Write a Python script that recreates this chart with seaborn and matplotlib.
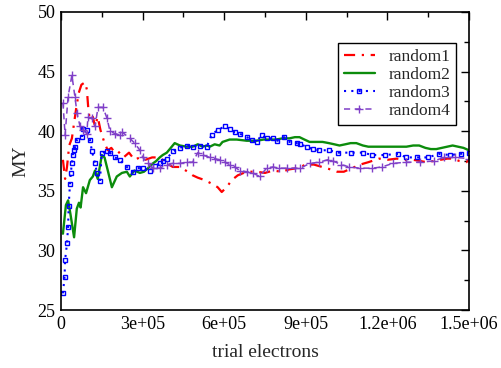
import matplotlib
matplotlib.use("Agg")
import matplotlib.pyplot as plt
from matplotlib.ticker import MultipleLocator, FixedLocator
import seaborn as sns
import pandas as pd

# ---- data (x in thousands of trial electrons) ----
red_x = [7, 15, 22, 30, 40, 55, 65, 75, 88, 95, 100, 106, 117, 125, 135, 145, 160, 172, 185, 198,
         210, 230, 250, 270, 290, 310, 335, 363, 389, 411, 437, 466, 484, 503, 528, 554, 576, 591, 609, 628,
         650, 683, 719, 750, 780, 810, 840, 870, 900, 930, 960, 990, 1015, 1040, 1070, 1100, 1130, 1170, 1200, 1235,
         1265, 1295, 1320, 1345, 1370, 1395, 1420, 1440, 1465, 1490, 1500]
red_y = [37.6, 36.0, 37.0, 38.8, 39.4, 41.8, 43.2, 43.9, 44.1, 43.5, 42.0, 40.9, 41.2, 40.4, 41.2, 40.1, 39.0, 38.4, 38.6, 38.2,
         38.3, 37.8, 38.2, 37.6, 37.8, 37.6, 37.8, 37.8, 37.3, 37.0, 37.0, 36.6, 36.3, 36.1, 35.9, 35.6, 35.3, 34.9, 35.3, 35.9,
         36.3, 36.6, 36.6, 36.5, 36.7, 36.6, 36.8, 36.9, 37.2, 37.2, 37.0, 36.8, 36.6, 36.6, 36.9, 37.2, 37.4, 37.7, 37.6, 37.7,
         37.6, 37.6, 37.5, 37.4, 37.5, 37.6, 37.7, 37.7, 37.5, 37.4, 37.6]

green_x = [7, 18, 26, 35, 48, 58, 66, 72, 81, 92, 106, 117, 125, 135, 150, 160, 172, 187, 205, 224,
           242, 253, 270, 290, 305, 320, 338, 350, 363, 374, 389, 418, 437, 462, 484, 503, 521, 536, 547, 565,
           583, 594, 620, 646, 683, 719, 745, 767, 790, 815, 840, 860, 877, 895, 914, 935, 962, 985, 1005, 1024,
           1045, 1065, 1086, 1110, 1130, 1150, 1175, 1200, 1225, 1250, 1270, 1295, 1317, 1340, 1360, 1380, 1400, 1420, 1440, 1460,
           1480, 1500]
green_y = [31.4, 33.8, 34.2, 33.0, 31.1, 33.5, 34.0, 33.6, 35.3, 34.8, 35.9, 36.2, 36.7, 36.0, 38.0, 37.8, 36.7, 35.3, 36.2, 36.5,
           36.6, 36.2, 36.7, 36.5, 36.6, 36.9, 37.3, 37.5, 37.8, 38.0, 38.2, 39.0, 38.8, 38.7, 38.7, 38.9, 38.7, 38.8, 38.7, 38.9,
           38.8, 39.1, 39.3, 39.3, 39.2, 39.2, 39.3, 39.3, 39.3, 39.4, 39.4, 39.5, 39.5, 39.3, 39.1, 39.1, 39.1, 39.0, 38.9, 38.8,
           38.9, 39.0, 39.0, 38.8, 38.7, 38.7, 38.7, 38.7, 38.7, 38.7, 38.7, 38.8, 38.8, 38.6, 38.5, 38.5, 38.6, 38.7, 38.8, 38.7,
           38.6, 38.4]

blue_x = [7, 13, 15, 22, 26, 28, 33, 36, 40, 43, 47, 52, 59, 77, 81, 95, 106, 114, 125, 132,
          143, 150, 169, 180, 198, 216, 242, 264, 282, 301, 326, 345, 363, 374, 389, 411, 437, 462, 484, 510,
          536, 554, 576, 602, 620, 639, 657, 683, 701, 719, 738, 756, 778, 796, 820, 840, 866, 880, 903, 925,
          950, 985, 1020, 1065, 1110, 1145, 1190, 1240, 1270, 1310, 1350, 1390, 1430, 1470, 1500]
blue_y = [26.4, 27.8, 29.2, 30.6, 32.0, 33.7, 35.6, 36.5, 37.3, 38.0, 38.4, 38.7, 39.3, 39.5, 40.2, 40.1, 39.3, 38.3, 37.3, 36.5,
          35.8, 38.2, 38.3, 38.2, 37.8, 37.6, 37.0, 36.6, 36.9, 36.9, 36.7, 37.1, 37.3, 37.5, 37.7, 38.3, 38.6, 38.8, 38.7, 38.8,
          38.7, 39.7, 40.1, 40.4, 40.2, 39.9, 39.8, 39.5, 39.3, 39.1, 39.7, 39.4, 39.4, 39.2, 39.5, 39.1, 39.0, 38.9, 38.7, 38.5,
          38.4, 38.4, 38.2, 38.2, 38.2, 38.0, 38.0, 38.1, 37.8, 37.8, 37.8, 38.1, 38.0, 38.1, 38.2]

purple_x = [7, 15, 26, 40, 51, 59, 70, 81, 95, 99, 114, 125, 136, 154, 169, 180, 198, 216, 226, 253,
            271, 290, 301, 319, 338, 363, 389, 411, 437, 462, 484, 503, 521, 547, 565, 583, 602, 620, 639, 657,
            683, 705, 730, 756, 778, 800, 830, 860, 880, 915, 950, 980, 1000, 1030, 1060, 1100, 1145, 1180, 1220, 1270,
            1320, 1370, 1410, 1450, 1500]
purple_y = [42.4, 39.7, 42.9, 44.7, 42.9, 41.5, 40.4, 40.1, 39.8, 41.2, 41.1, 40.4, 42.0, 42.0, 41.1, 40.0, 39.8, 39.7, 39.9, 39.4,
            39.0, 38.4, 37.8, 37.3, 36.9, 36.9, 37.2, 37.3, 37.3, 37.4, 37.4, 38.2, 38.0, 37.8, 37.7, 37.6, 37.4, 37.2, 37.0, 36.7,
            36.6, 36.5, 36.2, 36.9, 37.0, 36.9, 36.9, 36.9, 36.9, 37.3, 37.4, 37.6, 37.5, 37.2, 37.0, 36.9, 36.9, 37.0, 37.3, 37.4,
            37.4, 37.5, 37.8, 37.8, 37.7]

series_names = ["random1", "random2", "random3", "random4"]
x_ticks = [0, 3e5, 6e5, 9e5, 1.2e6, 1.5e6]
x_tick_labels = ["0", "3e+05", "6e+05", "9e+05", "1.2e+06", "1.5e+06"]
y_ticks = [25, 30, 35, 40, 45, 50]

sns.set_style("white")
plt.rcParams["font.family"] = ["Liberation Serif", "DejaVu Serif"]
plt.rcParams["mathtext.fontset"] = "stix"

fig = plt.figure(figsize=(5.01, 3.68), dpi=100)
ax = fig.add_axes([0.1218, 0.1576, 0.8142, 0.8098])

frames = []
for name, xs, ys in zip(series_names, [red_x, green_x, blue_x, purple_x], [red_y, green_y, blue_y, purple_y]):
    frames.append(pd.DataFrame({"x": [v * 1000 for v in xs], "y": ys, "series": name}))

styles = {
    "random1": dict(color="#ff0000", linestyle=(0, (5, 3, 1, 3)), linewidth=1.6),
    "random2": dict(color="#0c8c0c", linestyle="-", linewidth=1.7),
    "random3": dict(color="#0000ff", linestyle=(0, (1, 2.5)), linewidth=1.5, marker="s", markersize=3.4,
                    markerfacecolor="none", markeredgecolor="#0000ff", markeredgewidth=1.0),
    "random4": dict(color="#8040c8", linestyle=(0, (4, 3)), linewidth=1.1, marker="+", markersize=5.5,
                    markerfacecolor="#8040c8", markeredgecolor="#8040c8", markeredgewidth=1.0),
}

for df in frames:
    name = df["series"].iloc[0]
    sns.lineplot(data=df, x="x", y="y", ax=ax, label=name, estimator=None, sort=False, **styles[name])

ax.set_xlim(0, 1.5e6)
ax.set_ylim(25, 50)
ax.xaxis.set_major_locator(FixedLocator(x_ticks))
ax.set_xticklabels(x_tick_labels)
ax.xaxis.set_minor_locator(MultipleLocator(1.5e5))
ax.yaxis.set_major_locator(FixedLocator(y_ticks))
ax.yaxis.set_minor_locator(MultipleLocator(2.5))
ax.tick_params(which="both", direction="in", top=True, right=True, labelsize=13, colors="black", width=1)
ax.tick_params(which="major", length=6, pad=4)
ax.tick_params(which="minor", length=3.5)
for s in ax.spines.values():
    s.set_color("black")
    s.set_linewidth(1.2)

ax.set_xlabel("trial electrons", fontsize=14, labelpad=8)
ax.set_ylabel("MY", fontsize=14, labelpad=6)

leg = ax.legend(loc="upper right", bbox_to_anchor=(0.968, 0.895), fontsize=12.5, frameon=True,
                fancybox=False, edgecolor="black", framealpha=1, handlelength=1.8,
                borderpad=0.3, labelspacing=0.12, handletextpad=0.8, borderaxespad=0)
leg.get_frame().set_linewidth(1.0)

fig.savefig("out.png", dpi=100)
